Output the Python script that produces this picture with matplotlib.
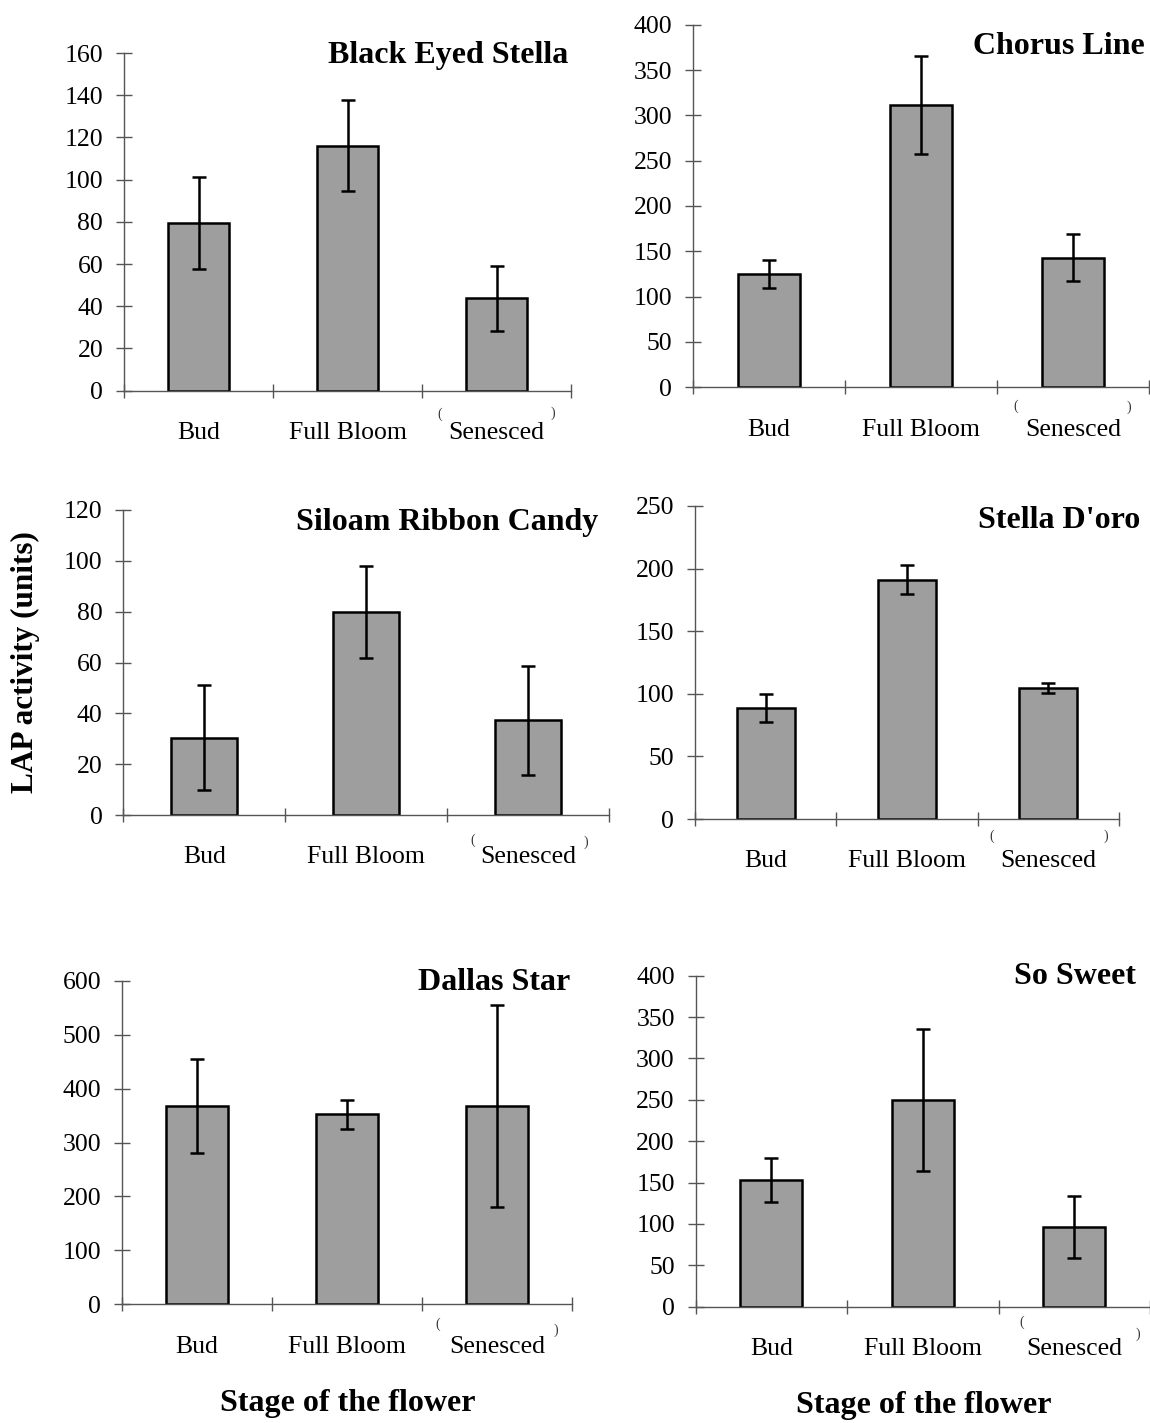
import matplotlib
matplotlib.use("Agg")
import matplotlib.pyplot as plt
import numpy as np

plt.rcParams['font.family'] = ['Liberation Serif', 'DejaVu Serif']

# ---- data ----
stages = ["Bud", "Full Bloom", "Senesced"]

black_eyed_stella = [79.5, 116.0, 43.7]
black_eyed_stella_err = [21.7, 21.6, 15.3]

chorus_line = [125.0, 311.7, 143.0]
chorus_line_err = [15.8, 54.0, 25.8]

siloam_ribbon_candy = [30.4, 79.9, 37.3]
siloam_ribbon_candy_err = [20.7, 18.0, 21.5]

stella_doro = [88.9, 191.2, 104.9]
stella_doro_err = [11.2, 11.3, 4.0]

dallas_star = [367.0, 352.2, 367.6]
dallas_star_err = [87.0, 26.6, 188.0]

so_sweet = [153.1, 249.8, 96.7]
so_sweet_err = [26.4, 85.4, 37.3]

titles = ["Black Eyed Stella", "Chorus Line", "Siloam Ribbon Candy",
          "Stella D'oro", "Dallas Star", "So Sweet"]
y_ticks = [list(range(0, 161, 20)), list(range(0, 401, 50)), list(range(0, 121, 20)),
           list(range(0, 251, 50)), list(range(0, 601, 100)), list(range(0, 401, 50))]

values = [black_eyed_stella, chorus_line, siloam_ribbon_candy, stella_doro, dallas_star, so_sweet]
errors = [black_eyed_stella_err, chorus_line_err, siloam_ribbon_candy_err,
          stella_doro_err, dallas_star_err, so_sweet_err]

# ---- layout (pixels) ----
W, H = 1150, 1423
fig = plt.figure(figsize=(W / 100, H / 100), dpi=100)

# left, right, top(=ymax), bottom(=0)
boxes = [(124, 571, 53, 390.7),
         (693, 1149, 24.7, 387.3),
         (123.3, 609, 510, 815),
         (695, 1119, 506, 819),
         (122, 572.3, 980.7, 1304.3),
         (695.7, 1150, 975.7, 1306.7)]
title_pos = [(568, 56), (1145, 47), (598, 523), (1140, 520), (570, 983), (1136, 977)]
paren_pos = [((440, 414), (553, 413)), ((1016, 406), (1129, 407)), ((473, 840), (586, 842)),
             ((992, 836), (1106, 836)), ((438, 1324), (556, 1330)), ((1022, 1322), (1138, 1334))]

bar_color = '#9e9e9e'
spine_color = '#555555'

for i in range(6):
    l, r, t, b = boxes[i]
    ax = fig.add_axes([l / W, 1 - b / H, (r - l) / W, (b - t) / H])
    x = np.arange(len(stages))
    ax.bar(x, values[i], width=0.41, color=bar_color, edgecolor='black', linewidth=1.8, zorder=2)
    ax.errorbar(x, values[i], yerr=errors[i], fmt='none', ecolor='black',
                elinewidth=1.8, capsize=5, capthick=1.8, zorder=3)
    ax.set_xlim(-0.5, 2.5)
    ax.set_ylim(0, y_ticks[i][-1])
    ax.set_yticks(y_ticks[i])
    ax.set_xticks(x)
    ax.set_xticklabels(stages)
    ax.set_xticks([-0.5, 0.5, 1.5, 2.5], minor=True)
    ax.tick_params(axis='x', which='major', length=0, pad=22.5, labelsize=18.5)
    ax.tick_params(axis='x', which='minor', direction='inout', length=10.5, width=1, color=spine_color)
    ax.tick_params(axis='y', direction='inout', length=11, width=1, color=spine_color,
                   pad=9.5, labelsize=18.5)
    for s in ['top', 'right']:
        ax.spines[s].set_visible(False)
    for s in ['left', 'bottom']:
        ax.spines[s].set_color(spine_color)
        ax.spines[s].set_linewidth(1)
    ax.spines['left'].set_bounds(0, y_ticks[i][-1])
    ax.patch.set_alpha(0)
    tx, ty = title_pos[i]
    fig.text(tx / W, 1 - ty / H, titles[i], ha='right', va='center',
             fontsize=23, fontweight='bold')
    for (px, py), ch in zip(paren_pos[i], ['(', ')']):
        fig.text(px / W, 1 - py / H, ch, ha='center', va='center', fontsize=10, color='#333333')

fig.text(25 / W, 1 - 662 / H, "LAP activity (units)", rotation=90, ha='center', va='center',
         fontsize=22.5, fontweight='bold')
fig.text(348 / W, 1 - 1403 / H, "Stage of the flower", ha='center', va='center',
         fontsize=23, fontweight='bold')
fig.text(924 / W, 1 - 1406 / H, "Stage of the flower", ha='center', va='center',
         fontsize=23, fontweight='bold')

fig.savefig("out.png", dpi=100)
